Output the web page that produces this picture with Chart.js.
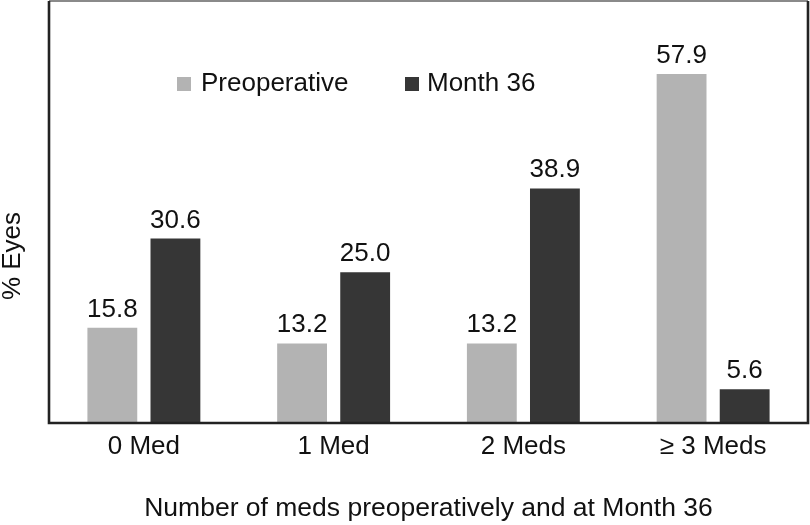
<!DOCTYPE html>
<html>
<head>
<meta charset="utf-8">
<style>
  html, body { margin: 0; padding: 0; background: #ffffff; }
  #wrap { width: 810px; height: 525px; position: relative; }
</style>
<script src="https://cdn.jsdelivr.net/npm/chart.js@4.4.1/dist/chart.umd.min.js"></script>
</head>
<body>
<div id="wrap"><canvas id="c" width="810" height="525"></canvas></div>
<script>
const categories = ["0 Med", "1 Med", "2 Meds", "\u2265 3 Meds"];
const preoperative = [15.8, 13.2, 13.2, 57.9];
const month36 = [30.6, 25.0, 38.9, 5.6];
const seriesNames = ["Preoperative", "Month 36"];
const xTitle = "Number of meds preoperatively and at Month 36";
const yTitle = "% Eyes";

const FONT = "'Liberation Sans', Arial, Helvetica, sans-serif";
const LIGHT = "#b3b3b3";
const DARK = "#363636";

const valueLabels = {
  id: "valueLabels",
  afterDatasetsDraw(chart) {
    const ctx = chart.ctx;
    ctx.save();
    ctx.font = "26px " + FONT;
    ctx.fillStyle = "#111111";
    ctx.textAlign = "center";
    ctx.textBaseline = "alphabetic";
    chart.data.datasets.forEach((ds, di) => {
      const meta = chart.getDatasetMeta(di);
      meta.data.forEach((bar, i) => {
        ctx.fillText(ds.data[i].toFixed(1), bar.x, bar.y - 11);
      });
    });
    ctx.restore();
  }
};

const frame = {
  id: "frame",
  afterDraw(chart) {
    const a = chart.chartArea;
    const ctx = chart.ctx;
    ctx.save();
    ctx.strokeStyle = "#8a8a8a";
    ctx.lineWidth = 2;
    ctx.beginPath();
    ctx.moveTo(a.left, a.top);
    ctx.lineTo(a.right, a.top);
    ctx.stroke();
    ctx.strokeStyle = "#222222";
    ctx.lineWidth = 2.6;
    ctx.beginPath();
    ctx.moveTo(a.left, a.top);
    ctx.lineTo(a.left, a.bottom);
    ctx.lineTo(a.right, a.bottom);
    ctx.lineTo(a.right, a.top);
    ctx.stroke();
    ctx.restore();
  }
};

const customLegend = {
  id: "customLegend",
  afterDraw(chart) {
    const ctx = chart.ctx;
    const items = [
      { box: 177, text: 201 },
      { box: 405, text: 427 }
    ];
    ctx.save();
    ctx.font = "26px " + FONT;
    ctx.textBaseline = "middle";
    ctx.textAlign = "left";
    chart.data.datasets.forEach((ds, i) => {
      const it = items[i];
      ctx.fillStyle = ds.backgroundColor;
      ctx.fillRect(it.box, 77, 14, 14);
      ctx.fillStyle = "#111111";
      ctx.fillText(ds.label, it.text, 84);
    });
    ctx.restore();
  }
};

const yTitlePlugin = {
  id: "yTitlePlugin",
  afterDraw(chart) {
    const ctx = chart.ctx;
    ctx.save();
    ctx.translate(13, 256);
    ctx.rotate(-Math.PI / 2);
    ctx.font = "26px " + FONT;
    ctx.fillStyle = "#111111";
    ctx.textAlign = "center";
    ctx.textBaseline = "middle";
    ctx.fillText(yTitle, 0, 0);
    ctx.restore();
  }
};

new Chart(document.getElementById("c"), {
  type: "bar",
  data: {
    labels: categories,
    datasets: [
      { label: seriesNames[0], data: preoperative, backgroundColor: LIGHT,
        categoryPercentage: 0.665, barPercentage: 0.79 },
      { label: seriesNames[1], data: month36, backgroundColor: DARK,
        categoryPercentage: 0.665, barPercentage: 0.79 }
    ]
  },
  options: {
    responsive: false,
    animation: false,
    devicePixelRatio: 1,
    layout: { padding: { left: 49, right: 2, top: 1, bottom: 0 } },
    plugins: {
      legend: { display: false },
      tooltip: { enabled: false }
    },
    scales: {
      y: {
        display: false,
        min: 0,
        max: 70
      },
      x: {
        grid: { display: false, drawTicks: false },
        border: { display: false },
        ticks: {
          color: "#111111",
          font: { family: FONT, size: 26 },
          padding: 8
        },
        title: {
          display: true,
          text: xTitle,
          color: "#111111",
          font: { family: FONT, size: 26.5 },
          padding: { top: 23, bottom: 0 }
        }
      }
    }
  },
  plugins: [valueLabels, frame, customLegend, yTitlePlugin]
});
</script>
</body>
</html>
